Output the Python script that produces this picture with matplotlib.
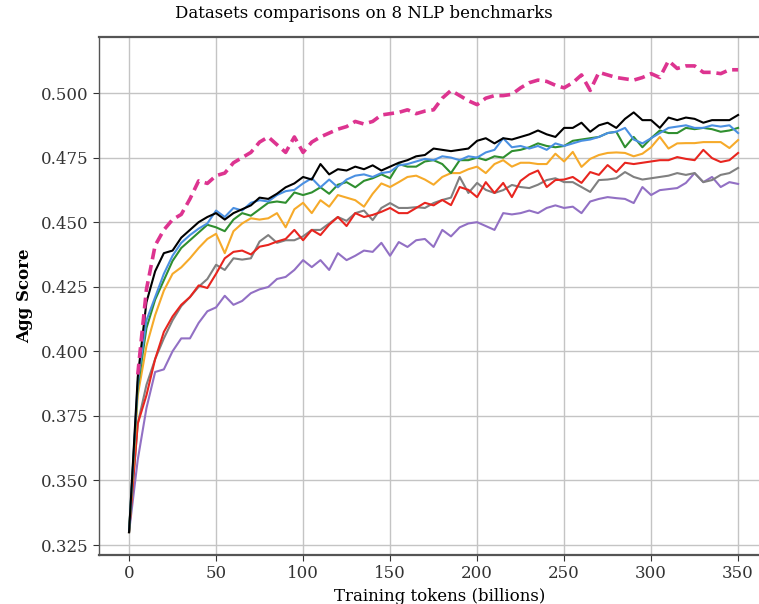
import matplotlib
matplotlib.use("Agg")
import matplotlib.pyplot as plt
import numpy as np

# training tokens (billions), one eval every 5B
tokens = list(range(0, 355, 5))
pink_tokens = list(range(5, 355, 5))

black = [0.330, 0.390, 0.419, 0.431, 0.438, 0.439, 0.444, 0.447, 0.450, 0.452,
         0.4535, 0.451, 0.4535, 0.455, 0.4565, 0.4595, 0.459, 0.461, 0.4635, 0.465,
         0.4675, 0.4665, 0.4725, 0.4685, 0.4705, 0.470, 0.4715, 0.4705, 0.472, 0.470,
         0.4715, 0.473, 0.474, 0.4755, 0.476, 0.4785, 0.478, 0.4775, 0.478, 0.4785,
         0.4815, 0.4825, 0.4805, 0.4825, 0.482, 0.483, 0.484, 0.4855, 0.484, 0.483,
         0.4865, 0.4865, 0.4885, 0.485, 0.4875, 0.4885, 0.4865, 0.490, 0.4925, 0.4895,
         0.4895, 0.4865, 0.4905, 0.4895, 0.4905, 0.490, 0.4885, 0.4895, 0.4895, 0.4895,
         0.4915]
blue = [0.330, 0.388, 0.412, 0.421, 0.430, 0.437, 0.442, 0.445, 0.4475, 0.4495,
        0.4545, 0.452, 0.4555, 0.4545, 0.4575, 0.4585, 0.458, 0.4605, 0.462, 0.4625,
        0.465, 0.467, 0.4635, 0.4665, 0.4635, 0.4665, 0.468, 0.4685, 0.4675, 0.469,
        0.4695, 0.472, 0.4725, 0.4735, 0.4745, 0.474, 0.4755, 0.475, 0.474, 0.4755,
        0.475, 0.477, 0.478, 0.4825, 0.479, 0.4795, 0.4785, 0.4795, 0.478, 0.4805,
        0.4795, 0.4805, 0.4815, 0.482, 0.483, 0.4845, 0.485, 0.4865, 0.482, 0.4805,
        0.4825, 0.4845, 0.4865, 0.487, 0.4875, 0.4865, 0.4865, 0.4875, 0.487, 0.4875,
        0.4845]
green = [0.330, 0.386, 0.409, 0.420, 0.4275, 0.435, 0.440, 0.443, 0.446, 0.449,
         0.448, 0.4465, 0.451, 0.4535, 0.4525, 0.455, 0.4575, 0.458, 0.4575, 0.4615,
         0.4605, 0.4615, 0.4635, 0.461, 0.4645, 0.4655, 0.4635, 0.466, 0.467, 0.4685,
         0.467, 0.4725, 0.4715, 0.4715, 0.4735, 0.474, 0.4725, 0.469, 0.474, 0.474,
         0.475, 0.474, 0.4755, 0.475, 0.4775, 0.478, 0.479, 0.4805, 0.4795, 0.479,
         0.4795, 0.4815, 0.482, 0.4825, 0.483, 0.4845, 0.485, 0.479, 0.483, 0.479,
         0.4825, 0.4855, 0.4845, 0.4845, 0.4865, 0.486, 0.4865, 0.486, 0.485, 0.4855,
         0.4865]
orange = [0.330, 0.383, 0.402, 0.414, 0.4235, 0.430, 0.4325, 0.436, 0.440, 0.4435,
          0.4455, 0.438, 0.4465, 0.4495, 0.4515, 0.451, 0.4515, 0.4535, 0.448, 0.455,
          0.4575, 0.4535, 0.4585, 0.456, 0.4605, 0.4595, 0.4585, 0.456, 0.461, 0.465,
          0.4636, 0.4655, 0.4675, 0.468, 0.4665, 0.4645, 0.4675, 0.469, 0.469, 0.4705,
          0.4715, 0.469, 0.4725, 0.474, 0.4715, 0.473, 0.473, 0.4725, 0.4725, 0.4765,
          0.4735, 0.4772, 0.4714, 0.4745, 0.476, 0.4768, 0.477, 0.4768, 0.4755, 0.4765,
          0.479, 0.483, 0.4785, 0.4805, 0.4806, 0.4806, 0.481, 0.481, 0.481, 0.4787,
          0.4818]
red = [0.330, 0.372, 0.383, 0.397, 0.4075, 0.4135, 0.418, 0.421, 0.4255, 0.4245,
       0.430, 0.436, 0.4385, 0.439, 0.4375, 0.4405, 0.4412, 0.4425, 0.4435, 0.447,
       0.443, 0.447, 0.445, 0.449, 0.452, 0.4485, 0.4535, 0.452, 0.4528, 0.454,
       0.4555, 0.4535, 0.4535, 0.4555, 0.4575, 0.4565, 0.4586, 0.4566, 0.4636, 0.4625,
       0.4597, 0.4655, 0.4613, 0.4652, 0.4597, 0.466, 0.4685, 0.470, 0.4636, 0.4663,
       0.4665, 0.4675, 0.4652, 0.4694, 0.4683, 0.4721, 0.4694, 0.473, 0.4725, 0.473,
       0.4735, 0.474, 0.474, 0.4752, 0.4745, 0.474, 0.478, 0.4748, 0.4733, 0.474,
       0.4768]
gray = [0.330, 0.372, 0.387, 0.397, 0.405, 0.412, 0.4175, 0.421, 0.425, 0.428,
        0.4335, 0.4315, 0.436, 0.4355, 0.436, 0.4425, 0.445, 0.442, 0.443, 0.443,
        0.4445, 0.447, 0.447, 0.4495, 0.452, 0.4505, 0.4535, 0.4545, 0.4508, 0.4555,
        0.4574, 0.4555, 0.4555, 0.4558, 0.4555, 0.4574, 0.4586, 0.4595, 0.4675, 0.4613,
        0.4652, 0.4625, 0.4613, 0.4624, 0.4644, 0.4636, 0.4632, 0.4645, 0.4663, 0.467,
        0.4655, 0.4655, 0.4636, 0.4617, 0.4663, 0.4665, 0.467, 0.4694, 0.4675, 0.4665,
        0.467, 0.4675, 0.468, 0.469, 0.4683, 0.469, 0.4655, 0.4663, 0.4683, 0.469,
        0.471]
purple = [0.330, 0.358, 0.378, 0.392, 0.393, 0.400, 0.405, 0.405, 0.411, 0.4155,
          0.417, 0.4215, 0.418, 0.4195, 0.4225, 0.424, 0.4249, 0.428, 0.4288, 0.4315,
          0.4353, 0.4326, 0.4353, 0.4315, 0.438, 0.4353, 0.437, 0.439, 0.4385, 0.442,
          0.437, 0.4423, 0.4404, 0.443, 0.4435, 0.4404, 0.447, 0.4445, 0.448, 0.4495,
          0.450, 0.4485, 0.447, 0.4535, 0.453, 0.4535, 0.4545, 0.4535, 0.4555, 0.4565,
          0.4555, 0.456, 0.4535, 0.458, 0.459, 0.4597, 0.4593, 0.459, 0.4574, 0.4636,
          0.4605, 0.4624, 0.4628, 0.4632, 0.4652, 0.469, 0.4655, 0.4675, 0.4636, 0.4655,
          0.4648]
pink = [0.391, 0.424, 0.441, 0.447, 0.451, 0.453, 0.459, 0.466, 0.465, 0.468,
        0.469, 0.473, 0.475, 0.477, 0.481, 0.483, 0.480, 0.477, 0.483, 0.477,
        0.481, 0.483, 0.4845, 0.486, 0.487, 0.489, 0.488, 0.489, 0.4915, 0.492,
        0.4925, 0.4935, 0.492, 0.493, 0.4935, 0.498, 0.501, 0.499, 0.497, 0.4955,
        0.498, 0.499, 0.499, 0.4995, 0.502, 0.504, 0.505, 0.5045, 0.503, 0.502,
        0.504, 0.507, 0.501, 0.508, 0.507, 0.506, 0.5055, 0.505, 0.506, 0.5075,
        0.506, 0.5125, 0.5095, 0.5105, 0.5105, 0.508, 0.508, 0.5075, 0.509, 0.509]

plt.rcParams['font.family'] = 'DejaVu Serif'

fig = plt.figure(figsize=(7.59, 6.04), dpi=100)
# axes run past the right edge, like the cropped original
ax = fig.add_axes([0.1299, 0.0811, 0.8999, 0.8576])

ax.plot(tokens, purple, color='#9270c4', lw=1.5)
ax.plot(tokens, gray, color='#808080', lw=1.5)
ax.plot(tokens, red, color='#e8251f', lw=1.5)
ax.plot(tokens, orange, color='#f6aa2a', lw=1.5)
ax.plot(tokens, green, color='#2f8f2f', lw=1.5)
ax.plot(tokens, blue, color='#4a90e2', lw=1.5)
ax.plot(tokens, black, color='black', lw=1.5)
ax.plot(pink_tokens, pink, color='#dd3490', lw=2.6, ls=(0, (3, 1.6)))

ax.set_xlim(-17.5, 375)
ax.set_ylim(0.32113, 0.52168)
ax.set_xticks([0, 50, 100, 150, 200, 250, 300, 350])
ax.set_yticks([0.325, 0.350, 0.375, 0.400, 0.425, 0.450, 0.475, 0.500])
ax.set_yticklabels(['%.3f' % v for v in ax.get_yticks()])
ax.tick_params(labelsize=12, colors='#333333', length=4)
ax.grid(True, color='#c4c4c4', lw=1)
ax.set_axisbelow(True)
for name, s in ax.spines.items():
    s.set_color('#555555')
    s.set_linewidth(1.0 if name == 'left' else 1.6)

ax.set_ylabel('Agg Score', fontsize=12, fontweight='bold', labelpad=5)
ax.set_xlabel('Training tokens (billions)', fontsize=12, labelpad=4)
fig.text(0.48, 0.977, 'Datasets comparisons on 8 NLP benchmarks',
         ha='center', va='center', fontsize=12)

fig.savefig('out.png', dpi=100)
